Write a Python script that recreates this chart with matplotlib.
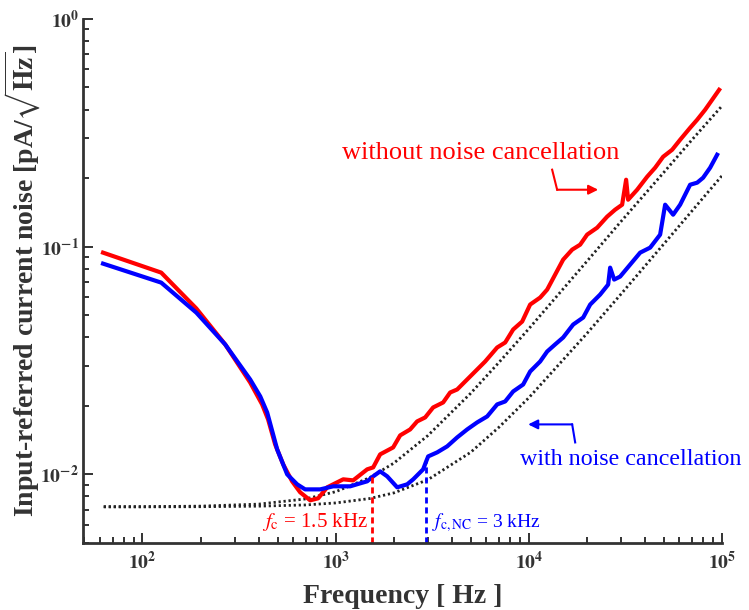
import matplotlib.pyplot as plt
import numpy as np

plt.rcParams['font.family'] = 'serif'
plt.rcParams['font.serif'] = ['Liberation Serif', 'DejaVu Serif']
plt.rcParams['mathtext.fontset'] = 'stix'

f_red = np.array([62.5, 125, 190, 268, 361, 416, 447, 486, 535, 595,
                  655, 738, 812, 904, 1094, 1232, 1456, 1564, 1699, 1984,
                  2157, 2430, 2641, 2906, 3196, 3601, 3914, 4256, 4794, 5272,
                  5939, 6854, 7541, 8293, 9234, 10155, 11440, 12440, 13680, 15050,
                  16760, 18430, 20030, 22570, 25420, 27970, 30400, 31880, 32650, 36360,
                  40970, 45050, 49560, 55170, 60690, 68360, 74320, 81730, 88870, 96600])
n_red = np.array([0.0941, 0.0769, 0.0535, 0.0372, 0.0253, 0.0203, 0.01742, 0.01354, 0.01106, 0.00932,
                  0.00834, 0.00769, 0.00785, 0.00877, 0.00951, 0.00941, 0.01052, 0.01073, 0.01224, 0.01313,
                  0.01483, 0.01575, 0.01708, 0.01778, 0.01967, 0.02069, 0.02288, 0.02359, 0.02610, 0.02829,
                  0.03130, 0.03606, 0.03793, 0.04325, 0.04688, 0.05567, 0.05975, 0.06476, 0.07535, 0.08768,
                  0.09701, 0.1020, 0.1129, 0.1211, 0.1354, 0.1453, 0.1528, 0.1967, 0.1607, 0.1778,
                  0.2028, 0.2221, 0.2481, 0.2663, 0.2946, 0.3325, 0.3606, 0.3990, 0.4414, 0.4883])

f_blue = np.array([62.5, 125, 190, 268, 361, 407, 442, 498, 561, 632,
                   695, 831, 971, 1189, 1339, 1456, 1564, 1699, 1848, 2082,
                   2345, 2520, 2837, 2941, 3012, 3354, 3777, 4256, 4794, 5400,
                   6084, 6854, 7541, 8293, 9344, 10155, 11440, 12440, 13680, 15050,
                   16960, 19110, 20770, 23390, 25730, 26350, 27640, 29680, 33440, 37680,
                   42450, 47810, 50760, 55830, 60690, 68360, 74320, 79800, 86770, 94320])
n_blue = np.array([0.0842, 0.0695, 0.0513, 0.0372, 0.0261, 0.0220, 0.0187, 0.01287, 0.0100, 0.00904,
                   0.00859, 0.00859, 0.00886, 0.00886, 0.00913, 0.00932, 0.00980, 0.01031, 0.00980, 0.00877,
                   0.00904, 0.00951, 0.01052, 0.01140, 0.01199, 0.01249, 0.01327, 0.01453, 0.01575, 0.01691,
                   0.01796, 0.02028, 0.02090, 0.02312, 0.02481, 0.02829, 0.03130, 0.03463, 0.0372, 0.0399,
                   0.04548, 0.04883, 0.05567, 0.06159, 0.06813, 0.08088, 0.07166, 0.07386, 0.08337, 0.0941,
                   0.0990, 0.1129, 0.1528, 0.1381, 0.1528, 0.1870, 0.1909, 0.2007, 0.2221, 0.2532])

# model curves (dotted)
f_model = np.array([63, 100, 200, 400, 700, 1000, 1500, 2000, 3000, 5000,
                    7000, 1e4, 2e4, 3e4, 5e4, 7e4, 1e5])
n_model_red = np.array([7.21e-3, 7.21e-3, 7.25e-3, 7.40e-3, 7.80e-3, 8.39e-3, 9.67e-3, 1.12e-2, 1.48e-2, 2.27e-2,
                        3.10e-2, 4.36e-2, 8.63e-2, 0.129, 0.212, 0.295, 0.415])
n_model_blue = np.array([7.20e-3, 7.20e-3, 7.21e-3, 7.25e-3, 7.34e-3, 7.49e-3, 7.83e-3, 8.29e-3, 9.47e-3, 1.25e-2,
                         1.61e-2, 2.17e-2, 4.16e-2, 6.19e-2, 0.1028, 0.1437, 0.205])

# corner frequencies
fc, fc_top = 1.55e3, 9.8e-3
fc_nc, fc_nc_top = 2.94e3, 1.16e-2

red = '#ff0000'
blue = '#0000ff'
axc = '#333333'

fig = plt.figure(figsize=(7.49, 6.10), dpi=100)
ax = fig.add_axes([0.111, 0.110, 0.853, 0.859])

ax.plot(f_model, n_model_red, color='#222222', lw=2, dashes=(0.8, 1.0))
ax.plot(f_model, n_model_blue, color='#222222', lw=2, dashes=(0.8, 1.0))
ax.plot(f_red, n_red, color=red, lw=3)
ax.plot(f_blue, n_blue, color=blue, lw=3)

ax.plot([fc, fc], [5e-3, fc_top], color=red, lw=2, dashes=(2.2, 1.4))
ax.plot([fc_nc, fc_nc], [5e-3, fc_nc_top], color=blue, lw=2, dashes=(2.2, 1.4))

ax.set_xscale('log')
ax.set_yscale('log')
ax.set_xlim(49.3, 1e5)
ax.set_ylim(5e-3, 1)

ax.set_xticks([1e2, 1e3, 1e4, 1e5])
ax.set_xticklabels([r'$\mathbf{10^{2}}$', r'$\mathbf{10^{3}}$', r'$\mathbf{10^{4}}$', r'$\mathbf{10^{5}}$'])
ax.set_yticks([1e-2, 1e-1, 1])
ax.set_yticklabels([r'$\mathbf{10^{-2}}$', r'$\mathbf{10^{-1}}$', r'$\mathbf{10^{0}}$'])
ax.tick_params(which='both', direction='in', colors=axc, labelcolor=axc, labelsize=14, width=1.4)
ax.tick_params(which='major', length=7)
ax.tick_params(which='minor', length=4)
ax.tick_params(axis='x', which='major', pad=6)
ax.tick_params(axis='y', which='major', pad=3)

for s in ['top', 'right']:
    ax.spines[s].set_visible(False)
for s in ['left', 'bottom']:
    ax.spines[s].set_linewidth(2)
    ax.spines[s].set_color(axc)

ax.set_xlabel('Frequency [ Hz ]', fontsize=20, fontweight='bold', color=axc, labelpad=8)
ax.set_ylabel(r'Input-referred current noise [pA/$\mathbf{\sqrt{Hz}}$]', fontsize=20,
              fontweight='bold', color=axc)
ax.yaxis.set_label_coords(-0.063, 0.5)

ax.text(1470, 6.16e-3, r'$f_{\rm c}$ = 1.5 kHz', color=red, fontsize=15, ha='right', va='center')
ax.text(3160, 6.16e-3, r'$f_{\rm c,NC}$ = 3 kHz', color=blue, fontsize=14, ha='left', va='center')

ax.text(5664, 0.258, 'without noise cancellation', color=red, fontsize=19, ha='center', va='center')
ax.text(33840, 0.0116, 'with noise cancellation', color=blue, fontsize=17.3, ha='center', va='center')

# bent arrows
ax.plot([13200, 14010], [0.2177, 0.1778], color=red, lw=1.5)
ax.annotate('', xy=(22850, 0.1778), xytext=(14010, 0.1778),
            arrowprops=dict(arrowstyle='-|>', color=red, lw=1.5, mutation_scale=14, shrinkA=0, shrinkB=0))
ax.plot([17370, 16760], [0.01381, 0.01657], color=blue, lw=1.5)
ax.annotate('', xy=(9917, 0.01657), xytext=(16760, 0.01657),
            arrowprops=dict(arrowstyle='-|>', color=blue, lw=1.5, mutation_scale=14, shrinkA=0, shrinkB=0))

plt.savefig('out.png', dpi=100)
